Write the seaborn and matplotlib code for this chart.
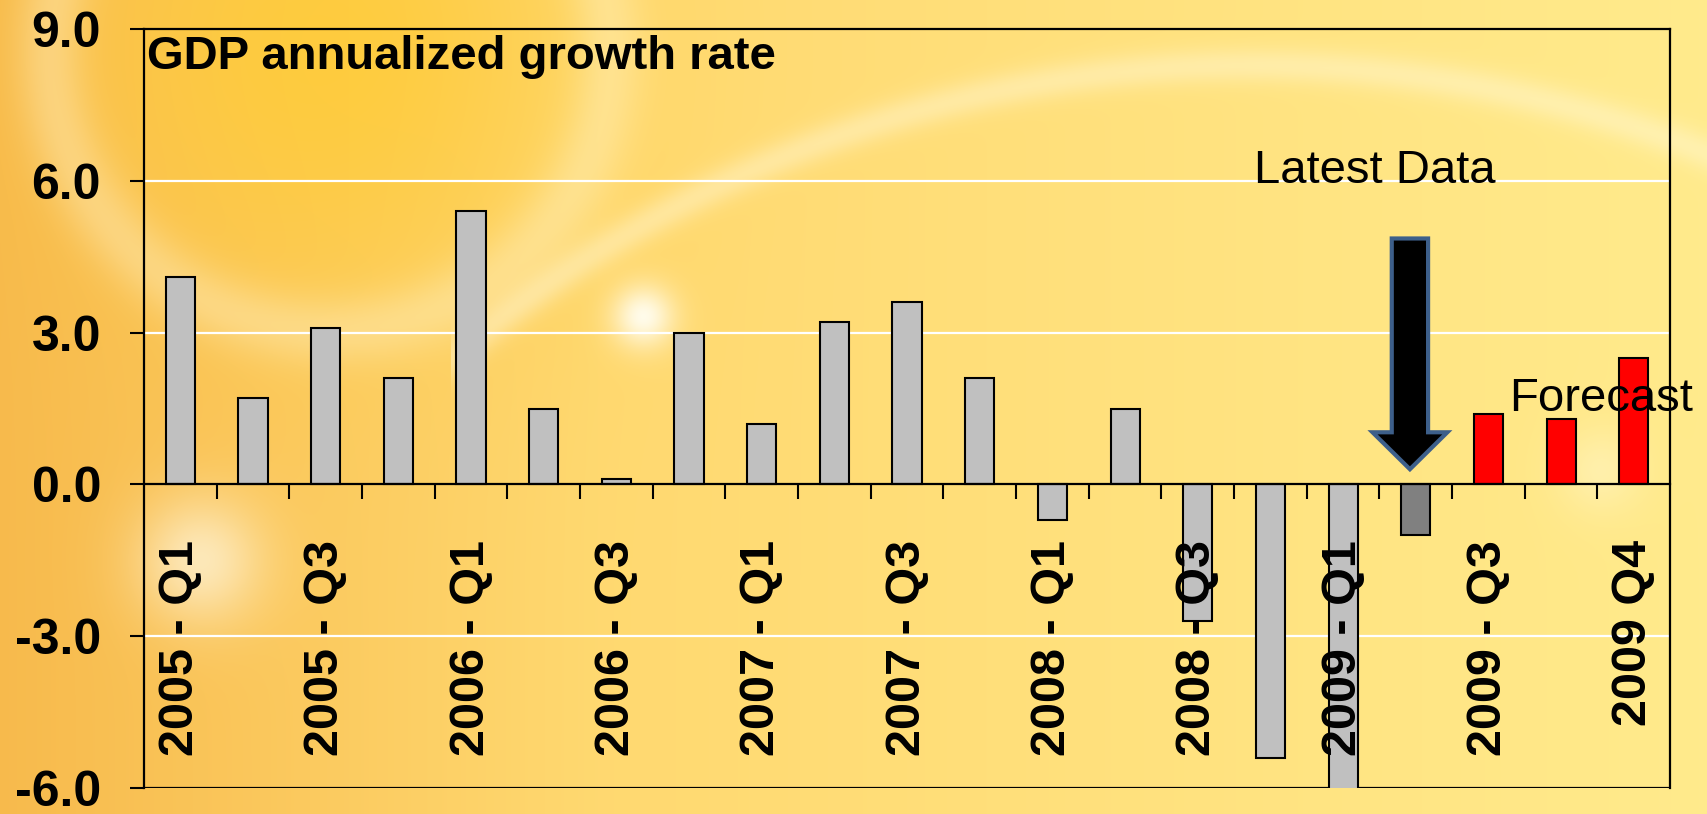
#bibliotecas
import numpy as np
import pandas as pd
import matplotlib
matplotlib.use('Agg')
import matplotlib.pyplot as plt
from matplotlib.patches import FancyArrow
from matplotlib.ticker import FormatStrFormatter
import seaborn as sns

#dados (taxa anualizada do PIB, %)
trimestres = ['2005 - Q1', '2005 - Q2', '2005 - Q3', '2005 - Q4',
              '2006 - Q1', '2006 - Q2', '2006 - Q3', '2006 - Q4',
              '2007 - Q1', '2007 - Q2', '2007 - Q3', '2007 - Q4',
              '2008 - Q1', '2008 - Q2', '2008 - Q3', '2008 - Q4',
              '2009 - Q1', '2009 - Q2', '2009 - Q3', '2009 - Q4', '2009 Q4']
crescimento = [4.1, 1.7, 3.1, 2.1, 5.4, 1.5, 0.1, 3.0, 1.2, 3.2, 3.6, 2.1,
               -0.7, 1.5, -2.7, -5.4, -6.4, -1.0, 1.4, 1.3, 2.5]
tipo = ['hist'] * 17 + ['latest'] + ['forecast'] * 3
cores = {'hist': '#C0C0C0', 'latest': '#808080', 'forecast': '#FF0000'}
rotulos = [t if i % 2 == 0 else '' for i, t in enumerate(trimestres)]
yticks = [-6, -3, 0, 3, 6, 9]

sns.set_style('white')
plt.rcParams['font.family'] = ['Liberation Sans', 'DejaVu Sans']
plt.rcParams['text.color'] = 'black'
plt.rcParams['xtick.color'] = 'black'
plt.rcParams['ytick.color'] = 'black'
plt.rcParams['axes.axisbelow'] = False

#fundo amarelo/laranja
H, W = 814, 1708
yy, xx = np.mgrid[0:H, 0:W].astype(float)

def mistura(base, cor, peso):
    return base * (1 - peso[..., None]) + np.array(cor) * peso[..., None]

t = xx / W
laranja = np.array([0.97, 0.73, 0.30])
amarelo = np.array([1.0, 0.85, 0.44])
claro = np.array([1.0, 0.92, 0.55])
f1 = np.clip(t / 0.35, 0, 1)[..., None]
f2 = np.clip((t - 0.35) / 0.65, 0, 1)[..., None]
img = np.where(t[..., None] < 0.35, laranja + (amarelo - laranja) * f1,
               amarelo + (claro - amarelo) * f2)
d = np.hypot(xx - 330, yy - 50)
img = mistura(img, (1.0, 0.80, 0.20), 0.75 * np.exp(-(d / 230) ** 2))
img = mistura(img, (1.0, 0.97, 0.85), 0.35 * np.exp(-((d - 280) / 35) ** 2))
for cx, cy, s, p in [(643, 316, 22, 0.9), (200, 560, 45, 0.6), (1600, 470, 30, 0.3)]:
    img = mistura(img, (1.0, 1.0, 0.97), p * np.exp(-((xx - cx) ** 2 + (yy - cy) ** 2) / (2 * s ** 2)))
arco = np.hypot(xx - 1250, yy - 1300) - 1235
img = mistura(img, (1.0, 0.98, 0.88), 0.4 * np.exp(-(arco / 18) ** 2) * (xx > 450))
img = np.clip(img, 0, 1)

fig = plt.figure(figsize=(17.08, 8.14), dpi=100)
bg = fig.add_axes([0, 0, 1, 1], zorder=-10)
bg.imshow(img, aspect='auto', extent=[0, 1, 0, 1])
bg.axis('off')

ax = fig.add_axes([0.0843, 0.0319, 0.8935, 0.9325])
ax.patch.set_alpha(0)

df = pd.DataFrame({'trimestre': trimestres, 'crescimento': crescimento, 'tipo': tipo})
sns.barplot(data=df, x='trimestre', y='crescimento', hue='tipo', palette=cores,
            dodge=False, width=0.4, saturation=1, edgecolor='black',
            linewidth=1.5, legend=False, ax=ax)

ax.set_xlim(-0.5, len(trimestres) - 0.5)
ax.set_ylim(-6, 9)
ax.set_xlabel('')
ax.set_ylabel('')
ax.set_axisbelow(False)

#linhas de grade brancas
for v in yticks[1:-1]:
    if v != 0:
        ax.axhline(v, color='white', lw=1.6, zorder=0.5)
ax.axhline(-6, color='black', lw=1.6, zorder=0.8)

#eixos
for s in ax.spines.values():
    s.set_color('black')
    s.set_linewidth(1.6)
    s.set_visible(True)
ax.spines['bottom'].set_position(('data', 0))

ax.set_yticks(yticks)
ax.yaxis.set_major_formatter(FormatStrFormatter('%.1f'))
ax.tick_params(axis='y', direction='out', length=10, width=1.5, pad=21,
               labelsize=36, left=True, colors='black')
for lbl in ax.get_yticklabels():
    lbl.set_fontweight('bold')

ax.set_xticks(range(len(trimestres)))
ax.set_xticklabels(rotulos, rotation=90, fontsize=35, fontweight='bold')
ax.set_xticks(np.arange(0.5, len(trimestres) - 1, 1), minor=True)
ax.tick_params(axis='x', which='major', length=0, pad=40, colors='black')
ax.tick_params(axis='x', which='minor', direction='out', length=11, width=1.5,
               bottom=True, colors='black')

#titulo e anotacoes
ax.text(-0.46, 8.88, 'GDP annualized growth rate', fontsize=34, fontweight='bold',
        va='top', ha='left', color='black')
ax.text(14.78, 5.95, 'Latest Data', fontsize=34, va='baseline', ha='left', color='black')
ax.text(18.29, 1.46, 'Forecast', fontsize=34, va='baseline', ha='left', color='black')

i_ult = tipo.index('latest')
seta = FancyArrow(i_ult - 0.08, 4.86, 0, -4.56, width=0.5, head_width=1.03,
                  head_length=0.73, length_includes_head=True, fc='black',
                  ec='#3D5F8A', lw=3, zorder=5)
ax.add_patch(seta)

fig.savefig('out.png', dpi=100)
